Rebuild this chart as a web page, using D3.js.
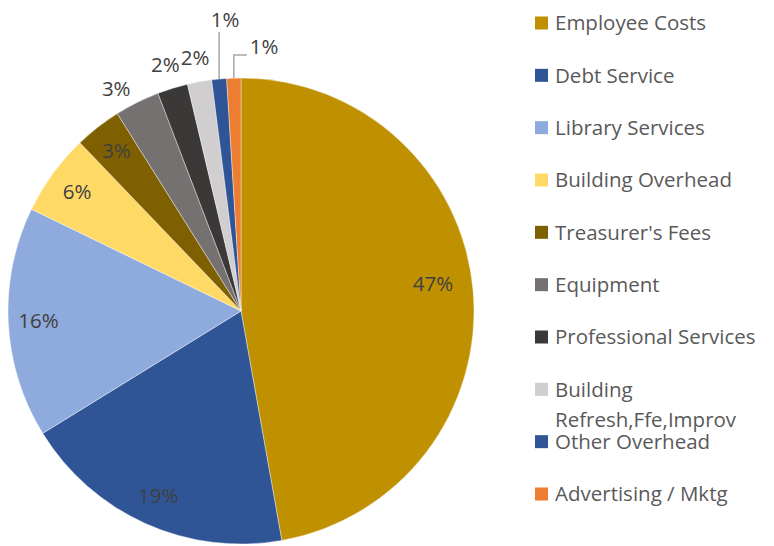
<!DOCTYPE html>
<html>
<head>
<meta charset="utf-8">
<script src="https://cdn.jsdelivr.net/npm/d3@7"></script>
<style>
  body { margin: 0; background: #fff; }
  svg { display: block; font-family: "Open Sans", Lato, sans-serif; }
</style>
</head>
<body>
<svg width="774" height="546"></svg>
<script>
// budget shares, clockwise from 12 o'clock
const categories = [
    "Employee Costs", "Debt Service", "Library Services", "Building Overhead",
    "Treasurer's Fees", "Equipment", "Professional Services",
    "Building Refresh,Ffe,Improv", "Other Overhead", "Advertising / Mktg"
];
const shares = [47.2, 19.0, 16.0, 5.65, 3.24, 3.11, 2.11, 1.68, 1.03, 0.98];
const pctLabels = ["47%", "19%", "16%", "6%", "3%", "3%", "2%", "2%", "1%", "1%"];
const legendLines = [
    ["Employee Costs"], ["Debt Service"], ["Library Services"], ["Building Overhead"],
    ["Treasurer's Fees"], ["Equipment"], ["Professional Services"],
    ["Building", "Refresh,Ffe,Improv"], ["Other Overhead"], ["Advertising / Mktg"]
];
const colors = ["#bf9000", "#2f5597", "#8faadc", "#ffd966", "#7f6000",
                "#767171", "#3b3838", "#d0cece", "#2f5597", "#ed7d31"];
// how excel placed each label
const placement = ["in", "in", "in", "in", "in", "out", "out", "out", "callUp", "callRight"];

const svg = d3.select("svg");
const cx = 241, cy = 311, r = 233;

const data = categories.map((c, i) => ({ name: c, value: shares[i], label: pctLabels[i], i: i }));

const pie = d3.pie().value(d => d.value).sort(null);
const arcs = pie(data);
const arc = d3.arc().innerRadius(0).outerRadius(r);
const inArc = d3.arc().innerRadius(r * 0.87).outerRadius(r * 0.87);
const outArc = d3.arc().innerRadius(r * 1.105).outerRadius(r * 1.105);
const edgeArc = d3.arc().innerRadius(r).outerRadius(r);

const g = svg.append("g").attr("transform", `translate(${cx},${cy})`);

g.selectAll("path.slice")
    .data(arcs)
    .enter().append("path")
    .attr("class", "slice")
    .attr("d", arc)
    .attr("fill", d => colors[d.data.i])
    .attr("stroke", "#fff")
    .attr("stroke-width", 0.4);

// labels
arcs.forEach(a => {
    const p = placement[a.data.i];
    let x, y, anchor = "middle";
    if (p === "in") {
        [x, y] = inArc.centroid(a);
        if (a.data.i === 0) { x -= 10; y -= 9; }   // excel nudged this one in
    } else if (p === "out") {
        [x, y] = outArc.centroid(a);
        if (a.data.i === 5) { x -= 10; y += 8; }
    } else {
        const [ex, ey] = edgeArc.centroid(a);
        let pts;
        if (p === "callUp") {
            pts = [[ex, ey], [ex, ey - 47]];
            x = ex + 6; y = ey - 59;
        } else {
            pts = [[ex, ey], [ex, ey - 23], [ex + 13, ey - 23]];
            x = ex + 16; y = ey - 31; anchor = "start";
        }
        g.append("path")
            .attr("d", d3.line()(pts))
            .attr("fill", "none")
            .attr("stroke", "#a6a6a6")
            .attr("stroke-width", 1.5);
    }
    g.append("text")
        .attr("x", x)
        .attr("y", y)
        .attr("text-anchor", anchor)
        .attr("dy", "0.35em")
        .attr("font-size", 20.5)
        .attr("fill", "#404040")
        .text(a.data.label);
});

// legend
const legY = d3.scalePoint().domain(d3.range(categories.length)).range([23, 494]);
const leg = svg.append("g");
categories.forEach((c, i) => {
    const y0 = legY(i);
    leg.append("rect")
        .attr("x", 535).attr("y", y0 - 6.5)
        .attr("width", 13).attr("height", 13)
        .attr("fill", colors[i]);
    legendLines[i].forEach((line, k) => {
        leg.append("text")
            .attr("x", 555)
            .attr("y", y0 + k * 30)
            .attr("dy", "0.35em")
            .attr("font-size", 20.5)
            .attr("fill", "#595959")
            .text(line);
    });
});
</script>
</body>
</html>
